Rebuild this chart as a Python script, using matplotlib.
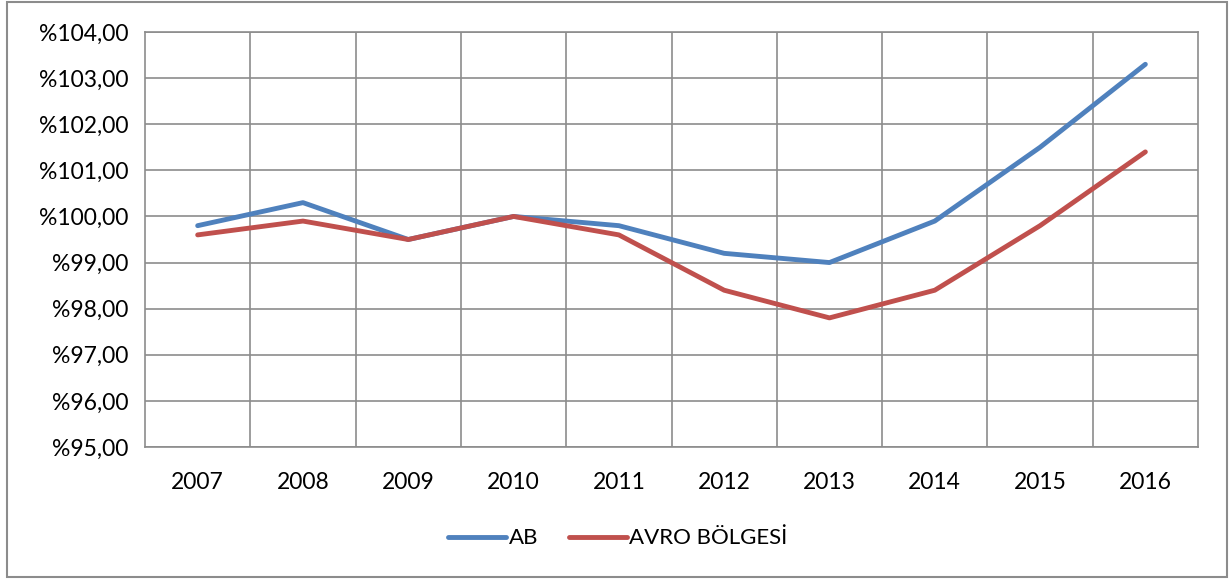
import matplotlib.pyplot as plt
from matplotlib.patches import Rectangle

# Data
years = ['2007', '2008', '2009', '2010', '2011', '2012', '2013', '2014', '2015', '2016']
ab = [99.8, 100.3, 99.5, 100.0, 99.8, 99.2, 99.0, 99.9, 101.5, 103.3]
avro = [99.6, 99.9, 99.5, 100.0, 99.6, 98.4, 97.8, 98.4, 99.8, 101.4]
y_ticks = [95, 96, 97, 98, 99, 100, 101, 102, 103, 104]

plt.rcParams['font.family'] = ['Lato', 'DejaVu Sans']

fig = plt.figure(figsize=(12.31, 5.79), dpi=100)
ax = fig.add_axes([0.1178, 0.228, 0.8554, 0.7167])

x = range(len(years))
ax.plot(x, ab, color='#4F81BD', linewidth=3.5, label='AB', solid_capstyle='round')
ax.plot(x, avro, color='#C0504D', linewidth=3.5, label='AVRO BÖLGESİ', solid_capstyle='round')

ax.set_xlim(-0.5, len(years) - 0.5)
ax.set_ylim(95, 104)
ax.set_yticks(y_ticks)
ax.set_yticklabels([f"%{v:.2f}".replace('.', ',') for v in y_ticks])
ax.set_xticks(list(x))
ax.set_xticklabels(years)

# vertical gridlines sit between categories
ax.set_xticks([i + 0.5 for i in range(len(years) - 1)], minor=True)
ax.grid(axis='y', which='major', color='#8c8c8c', linewidth=1.2)
ax.grid(axis='x', which='minor', color='#8c8c8c', linewidth=1.2)
ax.set_axisbelow(True)
ax.tick_params(which='both', length=0, labelsize=16.5)
ax.tick_params(axis='x', pad=18)
ax.tick_params(axis='y', pad=12)
for s in ax.spines.values():
    s.set_color('#8c8c8c')
    s.set_linewidth(1.2)

fig.legend(loc='center', bbox_to_anchor=(0.502, 0.07), ncol=2, frameon=False,
           fontsize=16, handlelength=2.6, handletextpad=0.1, columnspacing=1.4)

fig.patches.append(Rectangle((0.006, 0.004), 0.991, 0.992, transform=fig.transFigure,
                             fill=False, edgecolor='#8c8c8c', linewidth=1.5))

fig.savefig('out.png', dpi=100)
